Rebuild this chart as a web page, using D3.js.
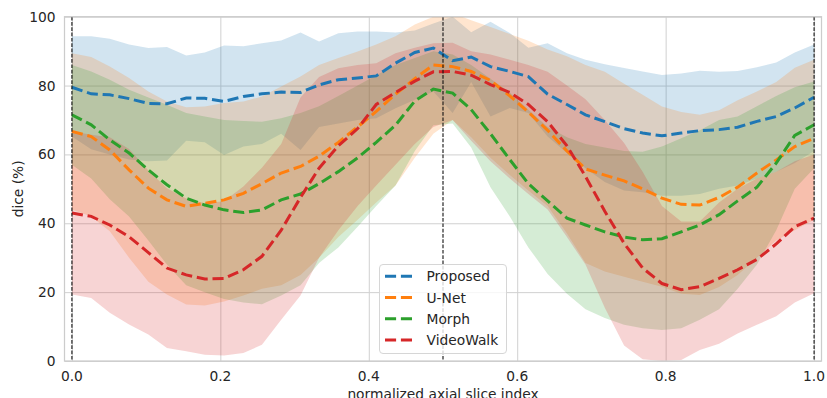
<html>

<head>
    <script src="https://cdn.jsdelivr.net/npm/d3@7"></script>
    <style>
        body {
            margin: 0;
            background: #fff;
        }

        text {
            font-family: "DejaVu Sans", sans-serif;
            fill: #262626;
        }
    </style>
</head>

<body>
    <script>
        // normalized slice positions (40 samples)
        var sliceIdx = [0, 0.026, 0.051, 0.077, 0.103, 0.128, 0.154, 0.179, 0.205, 0.231,
            0.256, 0.282, 0.308, 0.333, 0.359, 0.385, 0.41, 0.436, 0.462, 0.487,
            0.513, 0.538, 0.564, 0.59, 0.615, 0.641, 0.667, 0.692, 0.718, 0.744,
            0.769, 0.795, 0.821, 0.846, 0.872, 0.897, 0.923, 0.949, 0.974, 1];

        var methods = ['Proposed', 'U-Net', 'Morph', 'VideoWalk'];

        var propMean = [79.5, 77.6, 77.3, 76.2, 74.8, 74.7, 76.4, 76.3, 75.4, 76.8,
            77.6, 78.1, 78.0, 80.2, 81.7, 82.2, 82.8, 86.5, 89.6, 90.9,
            87.2, 88.3, 85.5, 84.1, 82.6, 77.5, 74.5, 71.5, 69.5, 67.5,
            66.2, 65.4, 66.2, 66.9, 67.2, 67.9, 69.6, 71.0, 73.5, 76.6];
        var propHi = [94.3, 94.3, 93.6, 91.9, 90.9, 91.2, 88.7, 89.6, 91.6, 91.4,
            92.3, 93.1, 95.4, 92.8, 95.2, 95.7, 95.7, 95.4, 96.0, 98.0,
            100, 95.5, 98.5, 95.3, 91.0, 92.3, 89.4, 87.5, 86.2, 85.1,
            84.1, 83.1, 83.5, 84.3, 84.0, 84.2, 85.3, 86.7, 89.6, 91.9];
        var propLo = [65.2, 61.5, 60.0, 58.5, 58.0, 58.2, 64.0, 63.5, 59.8, 62.3,
            63.0, 66.0, 61.3, 68.0, 69.0, 70.0, 70.5, 73.4, 75.9, 78.3,
            72.0, 81.0, 71.0, 73.5, 72.0, 65.2, 60.4, 56.0, 52.0, 49.5,
            49.0, 48.0, 48.0, 48.5, 50.0, 51.0, 53.0, 55.0, 57.5, 61.0];

        var unetMean = [66.7, 65.2, 61.3, 55.5, 50.2, 46.8, 44.9, 45.8, 46.8, 48.7,
            51.5, 54.6, 56.5, 59.5, 63.5, 68.0, 72.5, 77.5, 82.0, 86.0,
            85.5, 84.1, 81.5, 77.0, 72.3, 67.0, 61.0, 55.8, 54.0, 52.3,
            50.0, 47.3, 45.5, 45.3, 47.5, 50.5, 54.6, 58.4, 62.3, 64.7];
        var unetHi = [89.4, 88.3, 85.5, 82.2, 78.3, 75.4, 73.7, 73.9, 74.9, 75.4,
            76.8, 79.7, 82.6, 86.0, 88.0, 89.9, 91.9, 94.3, 97.7, 100,
            101, 99.0, 97.0, 95.0, 93.0, 90.5, 88.5, 86.0, 84.0, 80.5,
            77.3, 73.9, 72.3, 71.5, 72.8, 75.7, 78.3, 81.0, 85.2, 87.5];
        var unetLo = [44.0, 42.0, 37.7, 30.0, 23.0, 19.3, 16.4, 16.1, 17.3, 19.0,
            21.0, 22.0, 25.0, 30.0, 36.0, 41.0, 46.0, 51.0, 59.0, 66.0,
            70.0, 65.0, 59.0, 54.0, 49.5, 45.0, 37.0, 28.5, 26.0, 24.5,
            23.0, 21.6, 19.5, 19.2, 21.5, 25.0, 30.0, 35.0, 38.0, 41.0];

        var morphMean = [71.5, 68.6, 64.2, 60.4, 55.5, 51.2, 47.3, 45.3, 43.9, 43.1,
            43.9, 46.8, 48.5, 51.5, 55.0, 59.0, 63.5, 68.5, 75.5, 79.0,
            77.8, 73.0, 66.0, 58.5, 51.5, 46.5, 41.5, 39.5, 37.5, 36.0,
            35.2, 35.5, 37.5, 39.5, 42.5, 46.5, 50.5, 57.5, 65.5, 68.6];
        var morphHi = [86.0, 84.1, 81.7, 78.8, 76.5, 74.4, 72.0, 71.0, 70.0, 69.7,
            69.5, 70.5, 72.0, 74.0, 77.0, 80.0, 83.0, 86.0, 88.0, 90.0,
            89.0, 86.0, 82.0, 78.0, 73.0, 68.0, 65.0, 63.0, 62.0, 61.0,
            60.8, 62.3, 64.7, 67.0, 70.0, 71.0, 74.0, 77.0, 79.5, 81.2];
        var morphLo = [57.0, 53.0, 47.0, 42.0, 35.0, 28.0, 22.0, 20.0, 18.0, 17.0,
            16.5, 19.0, 22.0, 28.5, 33.0, 39.0, 45.0, 51.0, 61.0, 68.5,
            69.0, 62.0, 50.5, 42.0, 33.0, 25.3, 19.5, 15.0, 12.5, 10.5,
            9.5, 9.0, 9.5, 12.0, 15.0, 21.0, 28.0, 38.0, 50.0, 56.0];

        var vwMean = [43.0, 42.0, 39.5, 36.1, 31.5, 27.0, 25.0, 23.8, 24.0, 26.5,
            30.4, 38.0, 47.5, 56.0, 62.5, 67.5, 74.5, 78.0, 81.3, 84.0,
            84.1, 83.0, 80.3, 78.0, 74.5, 69.5, 62.5, 53.6, 43.5, 34.2,
            27.0, 22.5, 20.7, 21.6, 24.0, 26.5, 29.5, 34.0, 39.0, 41.5];
        var vwHi = [66.7, 65.7, 65.0, 61.6, 55.3, 50.2, 47.2, 45.8, 46.4, 50.7,
            56.1, 63.0, 76.5, 82.5, 85.0, 86.0, 86.5, 89.4, 91.0, 92.3,
            92.4, 90.0, 89.0, 87.5, 86.0, 84.0, 80.0, 76.0, 70.0, 63.3,
            55.0, 45.0, 40.5, 40.5, 46.0, 50.0, 53.0, 55.0, 58.0, 60.0];
        var vwLo = [19.3, 18.3, 14.0, 10.6, 7.7, 3.8, 2.8, 1.8, 1.6, 2.3,
            4.7, 12.0, 19.0, 30.0, 38.0, 45.0, 51.0, 57.0, 63.0, 68.0,
            70.0, 64.0, 58.0, 53.0, 48.5, 44.0, 36.0, 28.0, 15.5, 4.5,
            0.5, 0.0, 0.3, 3.2, 5.0, 8.0, 10.5, 13.0, 17.0, 19.7];

        var xTicks = [0, 0.2, 0.4, 0.6, 0.8, 1.0];
        var yTicks = [0, 20, 40, 60, 80, 100];
        var markers = [0, 0.5, 1];

        var colors = ['#1f77b4', '#ff7f0e', '#2ca02c', '#d62728'];
        var means = [propMean, unetMean, morphMean, vwMean];
        var his = [propHi, unetHi, morphHi, vwHi];
        var los = [propLo, unetLo, morphLo, vwLo];

        var w = 827, h = 398;
        var pLeft = 64.5, pRight = 821.5, pTop = 16.7, pBottom = 361;

        var x = d3.scaleLinear().domain([-0.01, 1.01]).range([pLeft, pRight]);
        var y = d3.scaleLinear().domain([0, 100]).range([pBottom, pTop]);

        var svg = d3.select('body')
            .append('svg')
            .attr('width', w)
            .attr('height', h);

        svg.append('clipPath').attr('id', 'plot')
            .append('rect')
            .attr('x', pLeft).attr('y', pTop)
            .attr('width', pRight - pLeft).attr('height', pBottom - pTop);

        // grid
        svg.append('g')
            .attr('transform', 'translate(0,' + pBottom + ')')
            .call(d3.axisBottom(x).tickValues(xTicks).tickSize(-(pBottom - pTop)).tickFormat(''))
            .call(g => g.select('.domain').remove())
            .selectAll('line').attr('stroke', '#d0d0d0').attr('stroke-width', 1);

        svg.append('g')
            .attr('transform', 'translate(' + pLeft + ',0)')
            .call(d3.axisLeft(y).tickValues(yTicks).tickSize(-(pRight - pLeft)).tickFormat(''))
            .call(g => g.select('.domain').remove())
            .selectAll('line').attr('stroke', '#d0d0d0').attr('stroke-width', 1);

        var plot = svg.append('g').attr('clip-path', 'url(#plot)');

        var series = methods.map((name, k) => {
            return sliceIdx.map((s, i) => {
                return { x: s, mean: means[k][i], lo: los[k][i], hi: his[k][i] };
            });
        });

        var area = d3.area()
            .x(d => x(d.x))
            .y0(d => y(d.lo))
            .y1(d => y(d.hi));

        var line = d3.line()
            .x(d => x(d.x))
            .y(d => y(d.mean));

        plot.selectAll('path.band')
            .data(series)
            .enter()
            .append('path')
            .attr('class', 'band')
            .attr('d', area)
            .attr('fill', (d, i) => colors[i])
            .attr('fill-opacity', 0.2);

        plot.selectAll('path.mean')
            .data(series)
            .enter()
            .append('path')
            .attr('class', 'mean')
            .attr('d', line)
            .attr('fill', 'none')
            .attr('stroke', (d, i) => colors[i])
            .attr('stroke-width', 3)
            .attr('stroke-dasharray', '11.1,4.8');

        // vertical markers
        plot.selectAll('line.marker')
            .data(markers)
            .enter()
            .append('line')
            .attr('x1', d => x(d)).attr('x2', d => x(d))
            .attr('y1', pTop).attr('y2', pBottom)
            .attr('stroke', '#111')
            .attr('stroke-width', 1.1)
            .attr('stroke-dasharray', '3.7,1.6');

        // frame
        svg.append('rect')
            .attr('x', pLeft).attr('y', pTop)
            .attr('width', pRight - pLeft).attr('height', pBottom - pTop)
            .attr('fill', 'none')
            .attr('stroke', '#cccccc')
            .attr('stroke-width', 1.25);

        // tick labels
        svg.selectAll('text.xt')
            .data(xTicks)
            .enter()
            .append('text')
            .attr('class', 'xt')
            .attr('x', d => x(d))
            .attr('y', 381.3)
            .attr('text-anchor', 'middle')
            .style('font-size', '13.8px')
            .text(d => d.toFixed(1));

        svg.selectAll('text.yt')
            .data(yTicks)
            .enter()
            .append('text')
            .attr('class', 'yt')
            .attr('x', 55.5)
            .attr('y', d => y(d))
            .attr('dy', '0.36em')
            .attr('text-anchor', 'end')
            .style('font-size', '13.8px')
            .text(d => d);

        svg.append('text')
            .attr('x', (pLeft + pRight) / 2)
            .attr('y', 399)
            .attr('text-anchor', 'middle')
            .style('font-size', '13.8px')
            .text('normalized axial slice index');

        svg.append('text')
            .attr('transform', 'translate(23,' + (pTop + pBottom) / 2 + ') rotate(-90)')
            .attr('text-anchor', 'middle')
            .style('font-size', '13.8px')
            .text('dice (%)');

        // legend
        var legend = svg.append('g');
        legend.append('rect')
            .attr('x', 379.5).attr('y', 264.5)
            .attr('width', 127).attr('height', 89)
            .attr('rx', 3.5)
            .attr('fill', '#fff').attr('fill-opacity', 0.8)
            .attr('stroke', '#d6d6d6').attr('stroke-width', 1);

        var rows = legend.selectAll('g.row')
            .data(methods)
            .enter()
            .append('g')
            .attr('class', 'row')
            .attr('transform', (d, i) => 'translate(0,' + (276.3 + i * 21.25) + ')');

        rows.append('line')
            .attr('x1', 385).attr('x2', 415)
            .attr('stroke', (d, i) => colors[i])
            .attr('stroke-width', 3)
            .attr('stroke-dasharray', '11.1,4.8');

        rows.append('text')
            .attr('x', 426.5)
            .attr('dy', '0.36em')
            .style('font-size', '13.8px')
            .text(d => d);
    </script>
</body>

</html>
